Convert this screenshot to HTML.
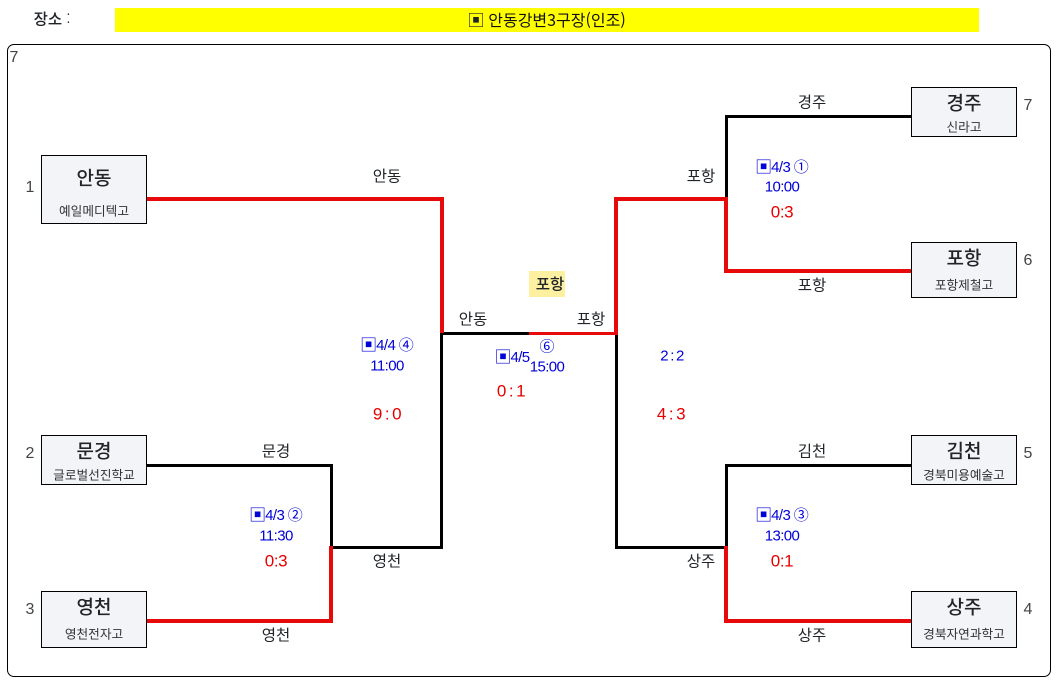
<!DOCTYPE html>
<html lang="ko">
<head>
<meta charset="utf-8">
<style>
html,body{margin:0;padding:0;background:#fff;}
body{position:relative;width:1059px;height:685px;overflow:hidden;font-family:"Liberation Sans","Noto Sans CJK KR",sans-serif;color:#212529;}
div{position:absolute;box-sizing:border-box;}
.t{white-space:nowrap;transform:translate(-50%,-50%);line-height:1;font-family:"Noto Sans CJK KR","Liberation Sans",sans-serif;}
.l{font-size:15.5px;}
.n{font-size:16px;color:#444;font-family:"Liberation Sans",sans-serif;}
.big{font-size:19px;font-weight:500;}
.sub{font-size:12.7px;color:#333;}
.b{font-size:15px;color:#0000d8;font-family:"Liberation Sans","Noto Sans CJK KR",sans-serif;letter-spacing:-.6px;}
.b i{font-style:normal;font-size:17px;line-height:14px;font-family:"Noto Sans CJK KR",sans-serif;letter-spacing:-1px;vertical-align:-1px;}
.b u{text-decoration:none;font-size:15px;line-height:14px;font-family:"Noto Sans CJK KR",sans-serif;letter-spacing:0;}
.r{font-size:17px;color:#e60000;font-family:"Liberation Sans",sans-serif;letter-spacing:-.4px;}
.w{word-spacing:-1.4px;}
.box{left:41px;width:106px;background:#f2f4f8;border:1px solid #000;}
.rb{left:911px;}
.k{background:#000;}
.e{background:#e60a0a;}
</style>
</head>
<body>
<div class="t" style="left:52px;top:19px;font-size:15.5px;font-weight:500;">장소 <span style="font-weight:300">:</span></div>
<div style="left:115px;top:8px;width:864px;height:24px;background:#ff0;"></div>
<div class="t" style="left:476px;top:19px;font-size:17px;">▣</div>
<div class="t" style="left:557px;top:19px;font-size:16px;color:#111;">안동강변3구장(인조)</div>
<div style="left:7px;top:44px;width:1044px;height:633px;border:1px solid #000;border-radius:7px;"></div>
<div class="t n" style="left:14px;top:58px;">7</div>

<!-- black lines -->
<div class="k" style="left:147px;top:464px;width:186px;height:3px;"></div>
<div class="k" style="left:330px;top:464px;width:3px;height:84px;"></div>
<div class="k" style="left:331px;top:546px;width:112px;height:3px;"></div>
<div class="k" style="left:440px;top:332px;width:3px;height:217px;"></div>
<div class="k" style="left:440px;top:332px;width:90px;height:3px;"></div>
<div class="k" style="left:615px;top:332px;width:3px;height:217px;"></div>
<div class="k" style="left:615px;top:546px;width:112px;height:3px;"></div>
<div class="k" style="left:725px;top:115px;width:3px;height:85px;"></div>
<div class="k" style="left:725px;top:115px;width:187px;height:3px;"></div>
<div class="k" style="left:725px;top:464px;width:3px;height:84px;"></div>
<div class="k" style="left:725px;top:464px;width:187px;height:3px;"></div>

<!-- red lines -->
<div class="e" style="left:147px;top:197px;width:297px;height:4px;"></div>
<div class="e" style="left:440px;top:197px;width:4px;height:136px;"></div>
<div class="e" style="left:329px;top:546px;width:4px;height:77px;"></div>
<div class="e" style="left:147px;top:619px;width:186px;height:4px;"></div>
<div class="e" style="left:529px;top:332px;width:89px;height:3px;"></div>
<div class="e" style="left:614px;top:197px;width:4px;height:138px;"></div>
<div class="e" style="left:614px;top:197px;width:114px;height:4px;"></div>
<div class="e" style="left:724px;top:197px;width:4px;height:76px;"></div>
<div class="e" style="left:724px;top:269px;width:188px;height:4px;"></div>
<div class="e" style="left:724px;top:546px;width:4px;height:77px;"></div>
<div class="e" style="left:724px;top:619px;width:188px;height:4px;"></div>

<!-- boxes -->
<div class="box" style="top:155px;height:69px;"></div>
<div class="box" style="top:435px;height:50px;"></div>
<div class="box" style="top:591px;height:57px;"></div>
<div class="box rb" style="top:87px;height:50px;"></div>
<div class="box rb" style="top:242px;height:56px;"></div>
<div class="box rb" style="top:435px;height:50px;"></div>
<div class="box rb" style="top:591px;height:57px;"></div>

<div class="t big" style="left:94px;top:177px;">안동</div>
<div class="t sub" style="left:94px;top:211px;">예일메디텍고</div>
<div class="t big" style="left:94px;top:450px;">문경</div>
<div class="t sub" style="left:94px;top:475px;">글로벌선진학교</div>
<div class="t big" style="left:94px;top:606px;">영천</div>
<div class="t sub" style="left:94px;top:634px;">영천전자고</div>
<div class="t big" style="left:964px;top:102px;">경주</div>
<div class="t sub" style="left:964px;top:127px;">신라고</div>
<div class="t big" style="left:964px;top:257px;">포항</div>
<div class="t sub" style="left:964px;top:285px;">포항제철고</div>
<div class="t big" style="left:964px;top:450px;">김천</div>
<div class="t sub" style="left:964px;top:475px;">경북미용예술고</div>
<div class="t big" style="left:964px;top:606px;">상주</div>
<div class="t sub" style="left:964px;top:634px;">경북자연과학고</div>

<!-- seed numbers -->
<div class="t n" style="left:30px;top:188px;">1</div>
<div class="t n" style="left:30px;top:454px;">2</div>
<div class="t n" style="left:30px;top:610px;">3</div>
<div class="t n" style="left:1028px;top:106px;">7</div>
<div class="t n" style="left:1028px;top:261px;">6</div>
<div class="t n" style="left:1028px;top:454px;">5</div>
<div class="t n" style="left:1028px;top:610px;">4</div>

<!-- line labels -->
<div class="t l" style="left:387px;top:176px;">안동</div>
<div class="t l" style="left:276px;top:451px;">문경</div>
<div class="t l" style="left:276px;top:635px;">영천</div>
<div class="t l" style="left:387px;top:561px;">영천</div>
<div class="t l" style="left:473px;top:319px;">안동</div>
<div class="t l" style="left:591px;top:319px;">포항</div>
<div class="t l" style="left:701px;top:176px;">포항</div>
<div class="t l" style="left:701px;top:561px;">상주</div>
<div class="t l" style="left:812px;top:102px;">경주</div>
<div class="t l" style="left:812px;top:285px;">포항</div>
<div class="t l" style="left:812px;top:451px;">김천</div>
<div class="t l" style="left:812px;top:635px;">상주</div>

<!-- winner -->
<div style="left:529px;top:271px;width:36px;height:26px;background:#fdf0a0;"></div>
<div class="t" style="left:550px;top:284px;font-size:15.5px;font-weight:500;">포항</div>

<!-- schedule -->
<div class="t b" style="left:387px;top:345px;"><i>▣</i>4/4 <u>④</u></div>
<div class="t b" style="left:387px;top:366px;">11:00</div>
<div class="t r w" style="left:387px;top:414px;">9 : 0</div>

<div class="t b" style="left:276px;top:515px;"><i>▣</i>4/3 <u>②</u></div>
<div class="t b" style="left:276px;top:536px;">11:30</div>
<div class="t r" style="left:276px;top:561px;">0:3</div>

<div class="t b" style="left:512px;top:357px;"><i>▣</i>4/5</div>
<div class="t b" style="left:547px;top:347px;"><u>⑥</u></div>
<div class="t b" style="left:547px;top:367px;">15:00</div>
<div class="t r w" style="left:511px;top:391px;">0 : 1</div>

<div class="t b w" style="left:672px;top:356px;">2 : 2</div>
<div class="t r w" style="left:671px;top:414px;">4 : 3</div>

<div class="t b" style="left:782px;top:167px;"><i>▣</i>4/3 <u>①</u></div>
<div class="t b" style="left:782px;top:187px;">10:00</div>
<div class="t r" style="left:782px;top:212px;">0:3</div>

<div class="t b" style="left:782px;top:515px;"><i>▣</i>4/3 <u>③</u></div>
<div class="t b" style="left:782px;top:536px;">13:00</div>
<div class="t r" style="left:782px;top:561px;">0:1</div>
</body>
</html>
